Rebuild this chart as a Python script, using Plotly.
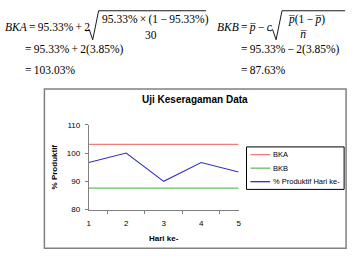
import plotly.graph_objects as go

W, H = 355, 262

days = ["1", "2", "3", "4", "5"]
produktif = [96.67, 100.0, 90.0, 96.67, 93.33]
bka_value = 103.03
bkb_value = 87.63
bka = [bka_value] * len(days)
bkb = [bkb_value] * len(days)
y_ticks = [80, 90, 100, 110]

names = ["BKA", "BKB", "% Produktif Hari ke-"]
colors = ["#F07C7C", "#66BB66", "#3030C0"]
widths = [1.3, 1.3, 1.1]
series = [bka, bkb, produktif]

def px(x):
    return x / W

def py(y):
    return 1 - y / H

fig = go.Figure()
for nm, col, wd, vals in zip(names, colors, widths, series):
    fig.add_trace(go.Scatter(x=days, y=vals, mode="lines", name=nm,
                             line=dict(color=col, width=wd), showlegend=False))

axis_font = dict(family="Liberation Sans", size=8, color="#000000")

fig.update_layout(
    width=W, height=H,
    margin=dict(l=0, r=0, t=0, b=0),
    paper_bgcolor="white", plot_bgcolor="white",
    showlegend=False,
    xaxis=dict(domain=[px(88), px(240)], type="category",
               tickson="boundaries", ticks="outside", ticklen=3,
               tickcolor="#808080", showline=True, linecolor="#808080",
               linewidth=1, showgrid=False, zeroline=False,
               tickfont=axis_font, ticklabelstandoff=6,
               title=dict(text="<b>Hari ke-</b>", font=axis_font, standoff=8)),
    yaxis=dict(domain=[1 - 213 / H, 1 - 125 / H], range=[80, 110],
               tickvals=y_ticks, ticks="outside", ticklen=3,
               tickcolor="#808080", showline=True, linecolor="#808080",
               linewidth=1, showgrid=False, zeroline=False,
               tickfont=axis_font, ticklabelstandoff=3,
               title=dict(text="<b>% Produktif</b>", font=axis_font, standoff=7)),
)

# chart area border
fig.add_shape(type="rect", xref="paper", yref="paper",
              x0=px(43), x1=px(349), y0=py(253), y1=py(88),
              line=dict(color="#808080", width=1.5), fillcolor="rgba(0,0,0,0)",
              layer="below")

# legend (drawn manually to match compact spacing)
lx0, ly0, lx1, ly1 = 248, 148, 347, 192
fig.add_shape(type="rect", xref="paper", yref="paper",
              x0=px(lx0), x1=px(lx1), y0=py(ly1), y1=py(ly0),
              line=dict(color="#000000", width=1), fillcolor="white")
for i, (nm, col) in enumerate(zip(names, colors)):
    yy = 156 + 14 * i
    fig.add_shape(type="line", xref="paper", yref="paper",
                  x0=px(252), x1=px(272), y0=py(yy), y1=py(yy),
                  line=dict(color=col, width=1.3))
    fig.add_annotation(text=nm, xref="paper", yref="paper", x=px(273), y=py(yy),
                       xanchor="left", yanchor="middle", showarrow=False,
                       font=dict(family="Liberation Sans", size=7.5, color="#000"))

# chart title
fig.add_annotation(text="<b>Uji Keseragaman Data</b>", xref="paper", yref="paper",
                   x=px(196), y=py(99), showarrow=False,
                   font=dict(family="Liberation Sans", size=10, color="#000"))

# formulas
serif = dict(family="Liberation Serif", size=11.5, color="#000")
T = "\u2009"

def txt(s, x, y, anchor="left", font=serif):
    fig.add_annotation(text=s, xref="paper", yref="paper", x=px(x), y=py(y),
                       xanchor=anchor, yanchor="middle", showarrow=False, font=font)

def path(points):
    d = "M " + " L ".join(f"{px(a)},{py(b)}" for a, b in points)
    fig.add_shape(type="path", xref="paper", yref="paper", path=d,
                  line=dict(color="#000", width=0.9))

txt(f"<i>BKA</i>{T}={T}95.33%{T}+{T}2", 1, 24)
path([(86, 28), (88.5, 26.5), (92, 37), (98, 7), (207, 7)])
txt(f"95.33%{T}×{T}(1{T}−{T}95.33%)", 99, 16)
txt("30", 151, 32, anchor="center")
txt(f"={T}95.33%{T}+{T}2(3.85%)", 21, 47)
txt(f"={T}103.03%", 21, 68)

txt(f"<i>BKB</i>{T}={T}<i>p̅</i>{T}−{T}<i>c</i>", 216, 24)
path([(272, 28), (274.5, 26.5), (278, 37), (284, 7), (348, 7)])
txt(f"<i>p̅</i>(1{T}−{T}<i>p̅</i>)", 288, 16)
txt("<i>n̅</i>", 306, 31, anchor="center")
txt(f"={T}95.33%{T}−{T}2(3.85%)", 240, 47)
txt(f"={T}87.63%", 240, 68)

fig.write_html("out.html")
